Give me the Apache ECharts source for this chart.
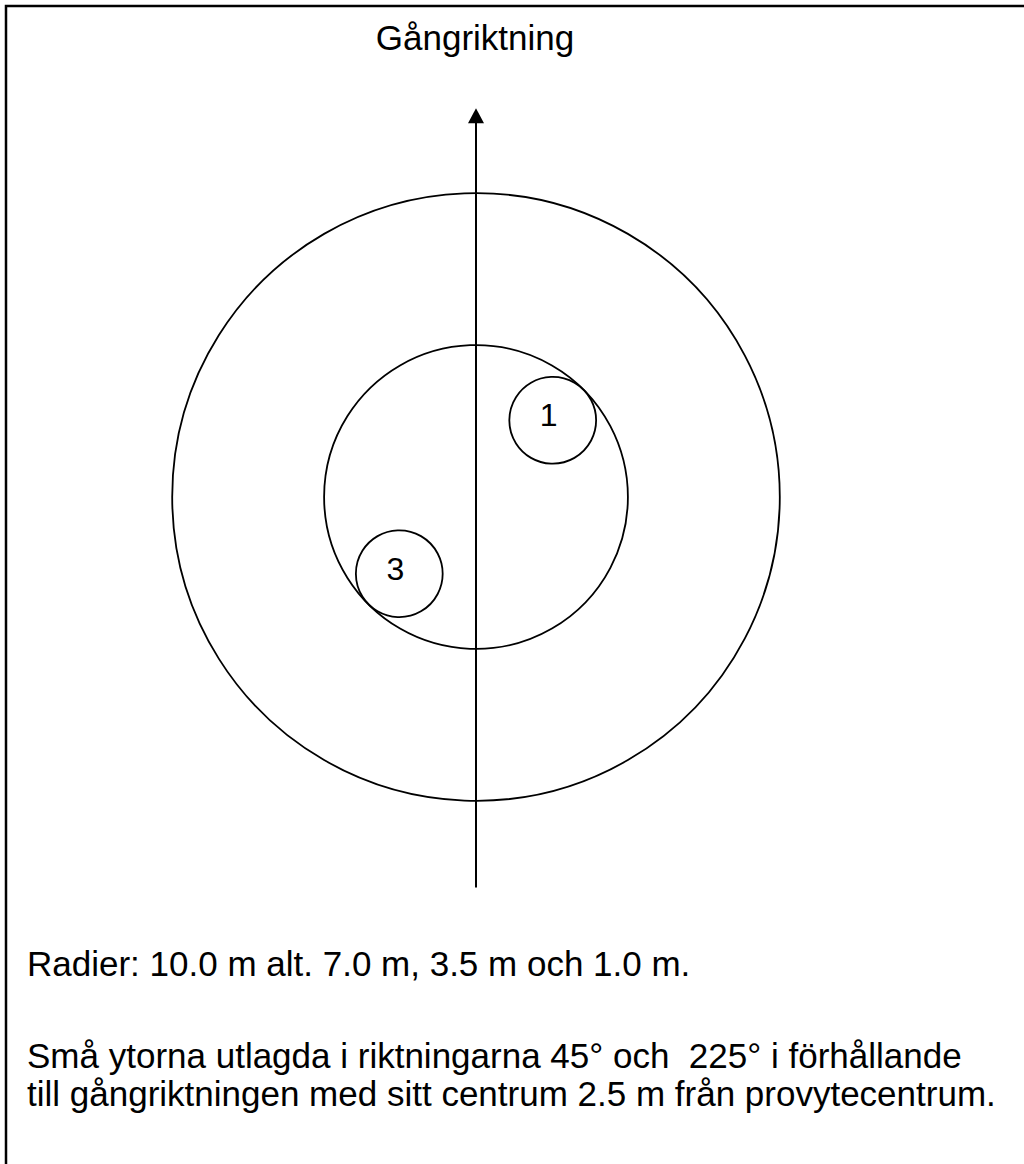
<!DOCTYPE html>
<html>
<head>
<meta charset="utf-8">
<script src="https://cdn.jsdelivr.net/npm/echarts@6/dist/echarts.min.js"></script>
<style>
  html, body { margin: 0; padding: 0; background: #fff; }
  #chart { width: 1024px; height: 1164px; }
</style>
</head>
<body>
<div id="chart"></div>
<script>
// ---- Data (metres) ----
const ringRadii = [7.0, 3.5];            // large plot circles
const plotLabels = ['1', '3'];           // small plots
const plotAngles = [45, 225];            // degrees from walking direction (clockwise)
const plotDistance = 2.5;                // distance of small plot centre from plot centre
const plotRadius = 1.0;                  // small plot radius
const arrowStart = [0, -9.0];            // walking-direction arrow, tail
const arrowEnd = [0, 8.96];              // walking-direction arrow, tip
const titleText = 'Gångriktning';
const noteLines = [
  'Radier: 10.0 m alt. 7.0 m, 3.5 m och 1.0 m.',
  'Små ytorna utlagda i riktningarna 45° och  225° i förhållande',
  'till gångriktningen med sitt centrum 2.5 m från provytecentrum.'
];
const noteTops = [946, 1038, 1076];

const FONT = '"Liberation Sans", Arial, Helvetica, sans-serif';

// circles table: [x, y, r, label]
const ringData = ringRadii.map(r => [0, 0, r, '']);
const plotData = plotLabels.map((lab, i) => {
  const a = plotAngles[i] * Math.PI / 180;
  return [plotDistance * Math.sin(a), plotDistance * Math.cos(a), plotRadius, lab];
});

function renderCircle(params, api) {
  const c = api.coord([api.value(0), api.value(1)]);
  const r = api.size([api.value(2), 0])[0];
  const label = api.value(3);
  const children = [{
    type: 'circle',
    shape: { cx: c[0], cy: c[1], r: r },
    style: { fill: 'none', stroke: '#000', lineWidth: 1.8 }
  }];
  if (label) {
    children.push({
      type: 'text',
      style: {
        text: String(label), x: c[0] - 4, y: c[1] - 5,
        align: 'center', verticalAlign: 'middle',
        font: '32px ' + FONT, fill: '#000'
      }
    });
  }
  return { type: 'group', children: children };
}

function renderArrow(params, api) {
  const p0 = api.coord([api.value(0), api.value(1)]);
  const p1 = api.coord([api.value(2), api.value(3)]);
  const headLen = 15, headW = 8;
  return {
    type: 'group',
    children: [
      { type: 'line', shape: { x1: p0[0], y1: p0[1], x2: p1[0], y2: p1[1] + headLen - 1 },
        style: { stroke: '#000', lineWidth: 2 } },
      { type: 'polygon', shape: { points: [[p1[0], p1[1]], [p1[0] - headW, p1[1] + headLen], [p1[0] + headW, p1[1] + headLen]] },
        style: { fill: '#000' } }
    ]
  };
}

const chart = echarts.init(document.getElementById('chart'), null, { renderer: 'svg' });
chart.setOption({
  backgroundColor: '#fff',
  animation: false,
  grid: { left: 42, top: 63, width: 868, height: 868 },
  xAxis: { type: 'value', min: -10, max: 10, show: false },
  yAxis: { type: 'value', min: -10, max: 10, show: false },
  graphic: [
    { type: 'polyline', shape: { points: [[6, 1170], [6, 6], [1030, 6]] },
      style: { stroke: '#000', lineWidth: 2.5, fill: 'none' } },
    { type: 'text',
      style: { text: titleText, x: 475, y: 20, align: 'center', verticalAlign: 'top',
        font: '35px ' + FONT, fill: '#000' } },
    ...noteLines.map((t, i) => ({
      type: 'text',
      style: { text: t, x: 27, y: noteTops[i], align: 'left', verticalAlign: 'top',
        font: '35px ' + FONT, fill: '#000' }
    }))
  ],
  series: [
    { type: 'custom', renderItem: renderCircle, data: ringData.concat(plotData), silent: true },
    { type: 'custom', renderItem: renderArrow, data: [[arrowStart[0], arrowStart[1], arrowEnd[0], arrowEnd[1]]], silent: true }
  ]
});
</script>
</body>
</html>
